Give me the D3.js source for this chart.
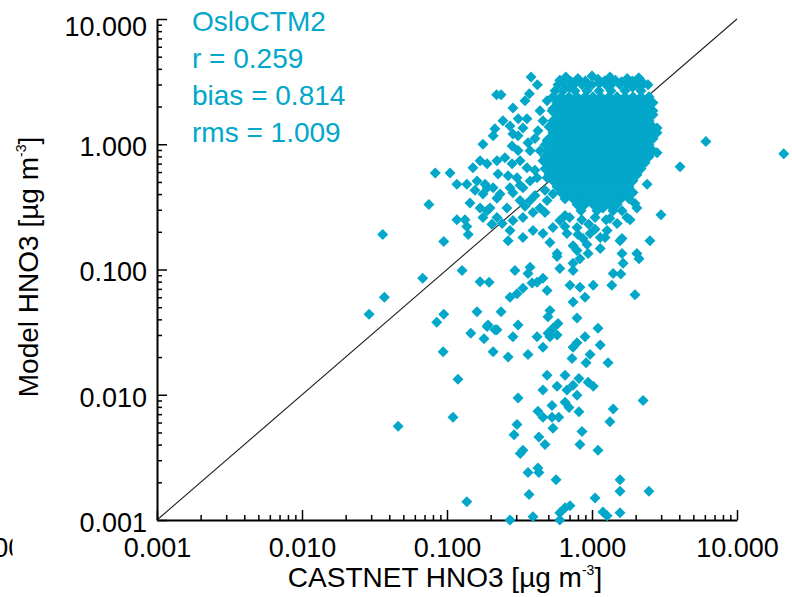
<!DOCTYPE html>
<html>
<head>
<meta charset="utf-8">
<script src="https://cdn.jsdelivr.net/npm/d3@7"></script>
<style>
body { margin: 0; background: #fff; }
svg { display: block; font-family: "Liberation Sans", Arial, Helvetica, sans-serif; }
</style>
</head>
<body>
<svg width="792" height="597"></svg>
<script>
// Axis setup
var majorTicks = [0.001, 0.01, 0.1, 1, 10];
var tickLabels = ["0.001", "0.010", "0.100", "1.000", "10.000"];
var statLines = ["OsloCTM2", "r = 0.259", "bias = 0.814", "rms = 1.009"];

// [CASTNET, model] pairs - scattered points
var scatterPoints = [
  [0.036,0.19],[0.037,0.060],[0.029,0.044],[0.046,0.0056],[0.068,0.085],[0.075,0.33],[0.083,0.59],[0.105,0.59],
  [0.117,0.48],[0.095,0.167],[0.127,0.098],[0.095,0.044],[0.085,0.038],[0.169,0.080],[0.195,0.079],[0.161,0.046],
  [0.192,0.036],[0.146,0.031],[0.180,0.028],[0.221,0.033],[0.094,0.022],[0.208,0.022],[0.119,0.0133],[0.110,0.0066],
  [0.137,0.0014],[0.117,0.25],[0.133,0.25],[0.137,0.22],[0.140,0.19],[0.204,0.23],[0.151,0.65],[0.189,0.70],
  [0.221,0.74],[0.137,0.48],[0.161,0.51],[0.177,0.40],[0.144,0.34],[0.169,0.31],[0.198,0.31],[0.221,0.37],
  [0.156,0.43],[0.189,0.45],[0.38,3.45],[0.42,2.98],[0.37,2.53],[0.22,2.48],[0.236,2.48],[0.285,1.95],
  [0.243,1.54],[0.31,1.60],[0.356,1.60],[0.334,1.35],[0.214,1.33],[0.208,1.17],[0.285,1.21],[0.404,1.11],
  [0.177,1.0],[0.281,0.97],[0.309,0.89],[0.251,0.78],[0.281,0.70],[0.169,0.74],[0.225,0.58],[0.264,0.56],
  [0.183,0.48],[0.208,0.45],[0.232,0.40],[0.285,0.41],[0.334,0.45],[0.374,0.51],[0.404,0.62],[0.459,0.74],
  [0.513,0.84],[0.319,0.355],[0.259,0.31],[0.189,0.295],[0.177,0.26],[0.221,0.26],[0.24,0.233],[0.285,0.246],
  [0.334,0.26],[0.392,0.285],[0.438,0.31],[0.49,0.355],[0.538,0.40],[0.374,0.355],[0.272,0.205],[0.264,0.17],
  [0.334,0.18],[0.392,0.205],[0.459,0.194],[0.538,0.216],[0.60,0.246],[0.574,0.134],[0.513,0.164],[0.672,0.194],
  [0.788,0.216],[0.97,0.194],[1.14,0.18],[1.27,0.205],[1.49,0.233],[1.74,0.26],[2.04,0.31],[1.56,0.17],
  [2.51,0.17],[2.04,0.134],[0.74,0.155],[0.924,0.158],[1.14,0.147],[0.867,0.177],[0.651,0.27],
  [0.49,2.22],[0.53,1.85],[0.459,1.54],[0.424,1.28],[0.49,1.07],[0.374,0.888],[0.438,0.888],[0.319,0.74],
  [0.356,0.65],[0.418,0.54],[0.49,0.54],[0.304,0.54],[0.272,0.45],[0.474,0.43],[0.404,0.39],[0.345,0.32],
  [0.474,0.285],[0.319,0.47],[0.362,1.03],[0.309,1.17],[0.438,1.85],[0.345,2.22],[0.272,1.40],
  [0.70,0.26],[0.85,0.25],[1.05,0.26],[1.25,0.25],[0.95,0.23],[0.80,0.19],[1.05,0.21],[0.65,0.22],
  [6.1,1.05],[21,0.84],[4.05,0.66],[2.81,1.35],[2.81,0.855],[2.40,0.48],[2.99,0.274],[2.11,0.122],
  [1.61,0.177],[1.83,0.25],[1.61,0.295],[1.98,0.336],[1.56,0.40],[1.23,0.18],[1.19,0.31],[1.33,0.255],
  [1.61,0.134],[1.64,0.112],[1.40,0.093],[1.58,0.092],[1.37,0.075],[1.98,0.063],[2.63,1.85],
  [0.574,0.127],[0.788,0.142],[0.94,0.134],[0.294,0.098],[0.374,0.104],[0.362,0.093],[0.60,0.102],[0.74,0.112],
  [0.826,0.122],[0.74,0.098],[0.459,0.085],[0.418,0.079],[0.386,0.078],[0.334,0.071],[0.705,0.075],[0.826,0.072],
  [1.02,0.075],[0.49,0.068],[0.304,0.064],[0.272,0.060],[0.895,0.060],[0.74,0.055],[0.236,0.046],[0.513,0.047],
  [0.497,0.042],[0.788,0.041],[0.309,0.036],[0.189,0.035],[0.214,0.033],[0.583,0.037],[0.538,0.034],[0.497,0.031],
  [0.574,0.030],[0.513,0.029],[1.10,0.034],[0.285,0.029],[0.418,0.029],[0.895,0.029],[0.788,0.026],[0.74,0.024],
  [1.14,0.025],[0.459,0.024],[0.362,0.021],[0.264,0.020],[0.728,0.0195],[0.97,0.021],[0.91,0.018],[1.29,0.018],
  [0.49,0.0143],[0.652,0.0143],[0.813,0.0135],[0.94,0.0126],[1.02,0.0117],[0.574,0.0117],[0.74,0.0119],[0.459,0.0109],
  [0.309,0.0094],[0.672,0.0109],[0.788,0.0099],[0.652,0.0087],[0.694,0.0079],[0.424,0.0074],[0.53,0.0082],[0.813,0.0073],
  [1.40,0.0077],[2.25,0.0090],[0.459,0.0066],[0.53,0.0066],[0.59,0.0066],[0.304,0.0058],[0.538,0.0054],[1.33,0.0061],
  [0.29,0.0048],[0.853,0.0051],[0.43,0.0046],[0.474,0.0040],[0.826,0.0040],[1.10,0.0036],[0.334,0.0036],[0.32,0.0034],
  [0.424,0.0026],[0.362,0.0024],[0.43,0.0024],[0.565,0.0021],[1.56,0.0021],[1.56,0.0017],[2.47,0.0017],[0.368,0.0016],
  [1.05,0.0015],[0.705,0.0013],[0.652,0.00125],[0.60,0.00114],[1.19,0.00116],[1.27,0.00108],[1.56,0.00114],[0.272,0.001],
  [0.392,0.00106],[0.60,0.001]
];

// dense cluster around 1 ug/m3 (solid blob in the picture)
var clusterPoints = [
  [0.60,3.25],[0.66,3.45],[0.72,3.15],[0.80,3.35],[0.90,3.2],[1.0,3.5],[1.10,3.3],[1.22,3.2],[1.33,3.45],[1.45,3.25],[1.60,3.15],[1.75,3.35],[1.90,3.2],[2.10,3.4],[2.25,3.1],
  [0.63,3.05],[0.77,3.1],[0.93,3.0],[1.12,3.05],[1.40,3.1],[1.75,3.05],[2.2,2.95],[1.30,2.9],[0.70,2.85],[1.90,2.85],
  [0.583,2.98],[0.694,2.98],[0.853,2.98],[1.0,2.98],[1.249,2.98],[1.56,2.98],[2.011,2.98],[2.433,2.98],
  [0.556,2.67],[0.631,2.67],[0.763,2.67],[0.924,2.67],[1.118,2.67],[1.352,2.67],[1.689,2.67],[2.177,2.67],
  [0.538,2.39],[0.611,2.39],[0.694,2.39],[0.788,2.39],[0.895,2.39],[1.016,2.39],[1.154,2.39],[1.310,2.39],[1.487,2.39],[1.689,2.39],[1.918,2.39],[2.177,2.39],[2.472,2.39],
  [0.574,2.14],[0.651,2.14],[0.740,2.14],[0.840,2.14],[0.953,2.14],[1.083,2.14],[1.229,2.14],[1.396,2.14],[1.585,2.14],[1.80,2.14],[2.043,2.14],[2.320,2.14],[2.635,2.14],
  [0.538,1.92],[0.611,1.92],[0.694,1.92],[0.788,1.92],[0.895,1.92],[1.016,1.92],[1.154,1.92],[1.310,1.92],[1.487,1.92],[1.689,1.92],[1.918,1.92],[2.177,1.92],[2.472,1.92],
  [0.574,1.72],[0.651,1.72],[0.740,1.72],[0.840,1.72],[0.953,1.72],[1.083,1.72],[1.229,1.72],[1.396,1.72],[1.585,1.72],[1.80,1.72],[2.043,1.72],[2.320,1.72],[2.635,1.72],
  [0.538,1.54],[0.611,1.54],[0.694,1.54],[0.788,1.54],[0.895,1.54],[1.016,1.54],[1.154,1.54],[1.310,1.54],[1.487,1.54],[1.689,1.54],[1.918,1.54],[2.177,1.54],[2.472,1.54],
  [0.505,1.38],[0.574,1.38],[0.651,1.38],[0.740,1.38],[0.840,1.38],[0.953,1.38],[1.083,1.38],[1.229,1.38],[1.396,1.38],[1.585,1.38],[1.80,1.38],[2.043,1.38],[2.320,1.38],[2.635,1.38],
  [0.538,1.235],[0.611,1.235],[0.694,1.235],[0.788,1.235],[0.895,1.235],[1.016,1.235],[1.154,1.235],[1.310,1.235],[1.487,1.235],[1.689,1.235],[1.918,1.235],[2.177,1.235],[2.472,1.235],[2.808,1.235],
  [0.505,1.106],[0.574,1.106],[0.651,1.106],[0.740,1.106],[0.840,1.106],[0.953,1.106],[1.083,1.106],[1.229,1.106],[1.396,1.106],[1.585,1.106],[1.80,1.106],[2.043,1.106],[2.320,1.106],[2.635,1.106],
  [0.474,0.991],[0.538,0.991],[0.611,0.991],[0.694,0.991],[0.788,0.991],[0.895,0.991],[1.016,0.991],[1.154,0.991],[1.310,0.991],[1.487,0.991],[1.689,0.991],[1.918,0.991],[2.177,0.991],[2.472,0.991],
  [0.505,0.888],[0.574,0.888],[0.651,0.888],[0.740,0.888],[0.840,0.888],[0.953,0.888],[1.083,0.888],[1.229,0.888],[1.396,0.888],[1.585,0.888],[1.80,0.888],[2.043,0.888],[2.320,0.888],[2.635,0.888],
  [0.474,0.795],[0.538,0.795],[0.611,0.795],[0.694,0.795],[0.788,0.795],[0.895,0.795],[1.016,0.795],[1.154,0.795],[1.310,0.795],[1.487,0.795],[1.689,0.795],[1.918,0.795],[2.177,0.795],[2.472,0.795],
  [0.505,0.712],[0.574,0.712],[0.651,0.712],[0.740,0.712],[0.840,0.712],[0.953,0.712],[1.083,0.712],[1.229,0.712],[1.396,0.712],[1.585,0.712],[1.80,0.712],[2.043,0.712],[2.320,0.712],
  [0.474,0.638],[0.538,0.638],[0.611,0.638],[0.694,0.638],[0.788,0.638],[0.895,0.638],[1.016,0.638],[1.154,0.638],[1.310,0.638],[1.487,0.638],[1.689,0.638],[1.918,0.638],[2.177,0.638],
  [0.505,0.571],[0.574,0.571],[0.651,0.571],[0.740,0.571],[0.840,0.571],[0.953,0.571],[1.083,0.571],[1.229,0.571],[1.396,0.571],[1.585,0.571],[1.80,0.571],[2.043,0.571],
  [0.538,0.512],[0.611,0.512],[0.694,0.512],[0.788,0.512],[0.895,0.512],[1.016,0.512],[1.154,0.512],[1.310,0.512],[1.487,0.512],[1.689,0.512],[1.918,0.512],
  [0.574,0.458],[0.651,0.458],[0.740,0.458],[0.840,0.458],[0.953,0.458],[1.083,0.458],[1.229,0.458],[1.396,0.458],[1.585,0.458],[1.80,0.458],
  [0.611,0.411],[0.694,0.411],[0.788,0.411],[0.895,0.411],[1.016,0.411],[1.154,0.411],[1.310,0.411],[1.487,0.411],[1.689,0.411],[1.918,0.411],
  [0.651,0.368],[0.740,0.368],[0.840,0.368],[0.953,0.368],[1.083,0.368],[1.229,0.368],[1.396,0.368],[1.585,0.368],[1.80,0.368],
  [0.788,0.330],[0.895,0.330],[1.016,0.330],[1.154,0.330],[1.310,0.330],[1.487,0.330],
  [0.840,0.295],[1.083,0.295],[1.396,0.295]
];

var plotLeft = 157, plotRight = 737, plotTop = 19, plotBottom = 520;
var pointColor = "#02a7c9";

var svg = d3.select("svg");

var x = d3.scaleLog().domain([0.001, 10]).range([plotLeft, plotRight]);
var y = d3.scaleLog().domain([0.001, 10]).range([plotBottom, plotTop]);

// minor ticks 2..9 in each decade
var minorTicks = [];
majorTicks.slice(0, 4).forEach(function(m) {
    for (var k = 2; k <= 9; k++) minorTicks.push(m * k);
});

function fmt(d) { return tickLabels[majorTicks.indexOf(d)]; }

// 1:1 line
svg.append("line")
    .attr("x1", x(0.001)).attr("y1", y(0.001))
    .attr("x2", x(10)).attr("y2", y(10))
    .attr("stroke", "#222")
    .attr("stroke-width", 1.1);

// Left axis
svg.append("g")
    .attr("transform", "translate(" + plotLeft + ",0)")
    .call(d3.axisLeft(y).tickValues(minorTicks).tickSize(-5).tickFormat(""))
    .call(function(g) { g.select(".domain").remove(); });

var yAxis = svg.append("g")
    .attr("transform", "translate(" + plotLeft + ",0)")
    .call(d3.axisLeft(y).tickValues(majorTicks).tickSizeInner(-10).tickSizeOuter(0).tickPadding(10).tickFormat(fmt));
yAxis.selectAll("text").attr("dy", function(d) { return d == 10 ? "0.62em" : "0.42em"; });

// Bottom axis
svg.append("g")
    .attr("transform", "translate(0," + plotBottom + ")")
    .call(d3.axisBottom(x).tickValues(minorTicks).tickSize(-5).tickFormat(""))
    .call(function(g) { g.select(".domain").remove(); });

var xAxis = svg.append("g")
    .attr("transform", "translate(0," + plotBottom + ")")
    .call(d3.axisBottom(x).tickValues(majorTicks).tickSizeInner(-10).tickSizeOuter(0).tickPadding(17.8).tickFormat(fmt));

svg.selectAll(".domain").attr("stroke-width", 2);
svg.selectAll(".tick line").attr("stroke-width", 1.5);
svg.selectAll(".tick text")
    .style("font-size", "27px")
    .style("fill", "#000");
svg.selectAll("g").attr("font-family", null).attr("font-size", null);

// left over label, cut at the window edge
svg.append("clipPath").attr("id", "edge")
    .append("rect").attr("x", 0).attr("y", 530).attr("width", 12.5).attr("height", 40);
svg.append("text")
    .attr("clip-path", "url(#edge)")
    .attr("x", x(0.0001)).attr("y", 557)
    .attr("text-anchor", "middle")
    .style("font-size", "27px")
    .text("0.0001");

// Axis titles
var xt = svg.append("text")
    .attr("x", 445).attr("y", 587)
    .attr("text-anchor", "middle")
    .style("font-size", "28px");
xt.append("tspan").text("CASTNET HNO3 [\u00b5g m");
xt.append("tspan").attr("dy", -12).style("font-size", "14px").text("-3");
xt.append("tspan").attr("dy", 12).text("]");

var yt = svg.append("text")
    .attr("transform", "translate(38,267) rotate(-90)")
    .attr("text-anchor", "middle")
    .style("font-size", "28px");
yt.append("tspan").text("Model HNO3 [\u00b5g m");
yt.append("tspan").attr("dy", -12).style("font-size", "14px").text("-3");
yt.append("tspan").attr("dy", 12).text("]");

// Points
var diamond = "M0,-5.5L5.5,0L0,5.5L-5.5,0Z";
svg.append("g")
    .selectAll("path")
    .data(scatterPoints.concat(clusterPoints))
    .enter().append("path")
    .attr("d", diamond)
    .attr("transform", function(d) { return "translate(" + x(d[0]) + "," + y(d[1]) + ")"; })
    .attr("fill", pointColor);

// Stats text
svg.append("g")
    .selectAll("text")
    .data(statLines)
    .enter().append("text")
    .attr("x", 192)
    .attr("y", function(d, i) { return 31 + i * 37; })
    .style("font-size", "28px")
    .style("fill", pointColor)
    .text(function(d) { return d; });
</script>
</body>
</html>
